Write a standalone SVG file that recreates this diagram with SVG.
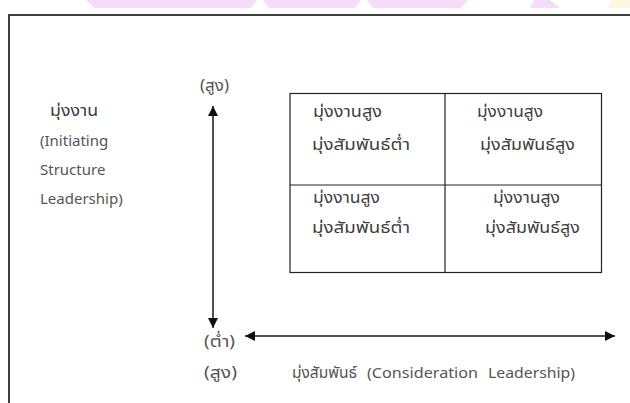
<svg xmlns="http://www.w3.org/2000/svg" width="630" height="403" viewBox="0 0 630 403">
<style>
text{font-family:"Noto Sans Thai","Noto Sans","Liberation Sans",sans-serif;fill:#3a3a3a;font-size:15px}
.th{font-size:16px}
.ax{fill:#555}
.q{fill:#3f3f3f;font-size:16px}
.ln{stroke:#1a1a1a;stroke-width:1.5;fill:none}
.grid{stroke:#222;stroke-width:1.2;fill:none}
.wm{fill:#f5dcf8}
</style>
<defs>
<marker id="ah" viewBox="0 0 10 10" refX="10" refY="5" markerWidth="10" markerHeight="10" markerUnits="userSpaceOnUse" orient="auto-start-reverse">
<path d="M0,0 L10,5 L0,10 z" fill="#111"/>
</marker>
</defs>
<rect width="630" height="403" fill="#fff"/>
<g id="watermark">
<polygon class="wm" points="86,0 257,0 251,8 94,8"/>
<polygon class="wm" points="263,0 361,0 355,8 269,8"/>
<polygon class="wm" points="367,0 468,0 461,8 373,8"/>
<polygon class="wm" points="534,0 550,0 560,8 530,8"/>
<polygon fill="#fdf6e0" points="612,0 630,0 630,8 608,8"/>
</g>
<rect x="9" y="15" width="640" height="420" fill="none" stroke="#111" stroke-width="1.6"/>
<g id="y-label">
<text class="th" x="50" y="116" textLength="48" lengthAdjust="spacingAndGlyphs">มุ่งงาน</text>
<text class="ax" x="40" y="146">(Initiating</text>
<text class="ax" x="40" y="175">Structure</text>
<text class="ax" x="40" y="204">Leadership)</text>
</g>
<g id="y-high"><text class="ax th" x="200" y="91" textLength="29" lengthAdjust="spacingAndGlyphs">(สูง)</text></g>
<g id="y-low"><text class="ax th" x="204" y="347" textLength="31" lengthAdjust="spacingAndGlyphs">(ต่ำ)</text></g>
<g id="x-high"><text class="ax th" x="204" y="378" textLength="33" lengthAdjust="spacingAndGlyphs">(สูง)</text></g>
<g id="x-label">
<text class="ax th" x="292" y="378" textLength="65" lengthAdjust="spacingAndGlyphs">มุ่งสัมพันธ์</text>
<text class="ax" x="367" y="378" textLength="111" lengthAdjust="spacingAndGlyphs">(Consideration</text>
<text class="ax" x="488" y="378" textLength="87" lengthAdjust="spacingAndGlyphs">Leadership)</text>
</g>
<g id="grid">
<rect class="grid" x="290" y="93.5" width="311.5" height="179"/>
<line class="grid" x1="445" y1="93.5" x2="445" y2="272.5"/>
<line class="grid" x1="290" y1="185" x2="601.5" y2="185"/>
</g>
<g id="q-tl"><text class="q" x="313" y="117" textLength="69" lengthAdjust="spacingAndGlyphs">มุ่งงานสูง</text><text class="q" x="312" y="150" textLength="98" lengthAdjust="spacingAndGlyphs">มุ่งสัมพันธ์ต่ำ</text></g>
<g id="q-tr"><text class="q" x="477" y="117" textLength="66" lengthAdjust="spacingAndGlyphs">มุ่งงานสูง</text><text class="q" x="480" y="150" textLength="95" lengthAdjust="spacingAndGlyphs">มุ่งสัมพันธ์สูง</text></g>
<g id="q-bl"><text class="q" x="313" y="203" textLength="67" lengthAdjust="spacingAndGlyphs">มุ่งงานสูง</text><text class="q" x="312" y="233" textLength="98" lengthAdjust="spacingAndGlyphs">มุ่งสัมพันธ์ต่ำ</text></g>
<g id="q-br"><text class="q" x="493" y="203" textLength="67" lengthAdjust="spacingAndGlyphs">มุ่งงานสูง</text><text class="q" x="485" y="233" textLength="95" lengthAdjust="spacingAndGlyphs">มุ่งสัมพันธ์สูง</text></g>
<g id="connectors">
<line class="ln" x1="213" y1="106" x2="213" y2="328" marker-start="url(#ah)" marker-end="url(#ah)"/>
<line class="ln" x1="245" y1="336" x2="615" y2="336" marker-start="url(#ah)" marker-end="url(#ah)"/>
</g>
</svg>
